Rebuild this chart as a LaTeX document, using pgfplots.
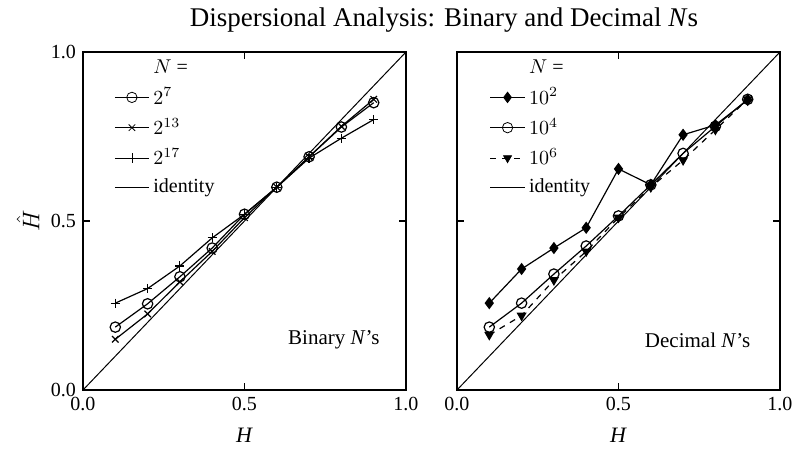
\documentclass[border=0pt]{standalone}
\usepackage{fontspec}
\setmainfont{Liberation Serif}
\usepackage{pgfplots}
\pgfplotsset{compat=1.18}
\begin{document}
\begin{tikzpicture}[x=1pt,y=1pt]
\path[use as bounding box] (0,0) rectangle (400,227);
\node[font=\fontsize{13.5}{15}\selectfont] at (222,217) {Dispersional Analysis: Binary and Decimal \textit{N}s};
\pgfplotsset{
  common/.style={
    scale only axis, width=161.5pt, height=169pt,
    xmin=0, xmax=1, ymin=0, ymax=1,
    xtick={0,0.5,1}, ytick={0,0.5,1},
    tick align=inside, major tick length=3.5pt,
    axis line style={line width=1pt},
    tick style={line width=0.8pt, black},
    /pgf/number format/assume math mode=true,
    /pgf/number format/fixed, /pgf/number format/fixed zerofill, /pgf/number format/precision=1,
    ticklabel style={font=\fontsize{10}{12}\selectfont},
    xlabel={\textit{H}},
    xlabel style={font=\fontsize{11}{13}\selectfont, at={(axis description cs:0.5,0)}, anchor=center, yshift=-22.5pt},
    legend cell align=left,
    every axis plot/.append style={black, line width=0.6pt},
  }
}
\begin{axis}[common, at={(41.5pt,32pt)}, anchor=south west,
  ylabel={$\hat{H}$},
  ylabel style={font=\fontsize{12}{14}\selectfont, at={(axis description cs:-0.17,0.5)}, anchor=center},
  legend style={at={(axis cs:0.09,0.995)}, anchor=north west, draw=none, fill=none,
    font=\fontsize{10}{12}\selectfont, row sep=1.5pt, inner sep=1pt},
  legend image post style={line width=0.4pt}]
\addlegendimage{empty legend}\addlegendentry{$N$ =}
\addplot[mark=o, mark size=2.6pt, mark options={solid, fill=white}] coordinates {
(0.1,0.186)(0.2,0.255)(0.3,0.335)(0.4,0.42)(0.5,0.52)(0.6,0.60)(0.7,0.69)(0.8,0.778)(0.9,0.85)};
\addlegendentry{$2^{7}$}
\addplot[mark=x, mark size=2.3pt] coordinates {
(0.1,0.15)(0.2,0.225)(0.3,0.32)(0.4,0.41)(0.5,0.51)(0.6,0.60)(0.7,0.69)(0.8,0.78)(0.9,0.86)};
\addlegendentry{$2^{13}$}
\addplot[mark=+, mark size=2.3pt] coordinates {
(0.1,0.257)(0.2,0.30)(0.3,0.367)(0.4,0.45)(0.5,0.52)(0.6,0.60)(0.7,0.686)(0.8,0.745)(0.9,0.80)};
\addlegendentry{$2^{17}$}
\addplot[line width=0.5pt] coordinates {(0,0)(1,1)};
\addlegendentry{identity}
\node[anchor=east, font=\fontsize{10.5}{12}\selectfont] at (axis cs:0.94,0.148) {Binary \textit{N}'s};
\end{axis}
\begin{axis}[common, at={(228.5pt,32pt)}, anchor=south west,
  yticklabels={},
  legend style={at={(axis cs:0.095,0.995)}, anchor=north west, draw=none, fill=none,
    font=\fontsize{10}{12}\selectfont, row sep=1.5pt, inner sep=1pt},
  legend image post style={line width=0.4pt}]
\addlegendimage{empty legend}\addlegendentry{$N$ =}
\addplot[mark=diamond*, mark size=2.6pt] coordinates {
(0.1,0.257)(0.2,0.358)(0.3,0.42)(0.4,0.48)(0.5,0.654)(0.6,0.607)(0.7,0.755)(0.8,0.784)(0.9,0.858)};
\addlegendentry{$10^{2}$}
\addplot[mark=o, mark size=2.6pt, mark options={solid, fill=white}] coordinates {
(0.1,0.186)(0.2,0.257)(0.3,0.343)(0.4,0.426)(0.5,0.515)(0.6,0.607)(0.7,0.70)(0.8,0.78)(0.9,0.86)};
\addlegendentry{$10^{4}$}
\addplot[dashed, mark=triangle*, mark size=2.3pt, mark options={solid, rotate=180}] coordinates {
(0.1,0.163)(0.2,0.22)(0.3,0.325)(0.4,0.41)(0.5,0.51)(0.6,0.60)(0.7,0.68)(0.8,0.77)(0.9,0.86)};
\addlegendentry{$10^{6}$}
\addplot[line width=0.5pt] coordinates {(0,0)(1,1)};
\addlegendentry{identity}
\node[anchor=east, font=\fontsize{10.5}{12}\selectfont] at (axis cs:0.93,0.148) {Decimal \textit{N}'s};
\end{axis}
\end{tikzpicture}
\end{document}
